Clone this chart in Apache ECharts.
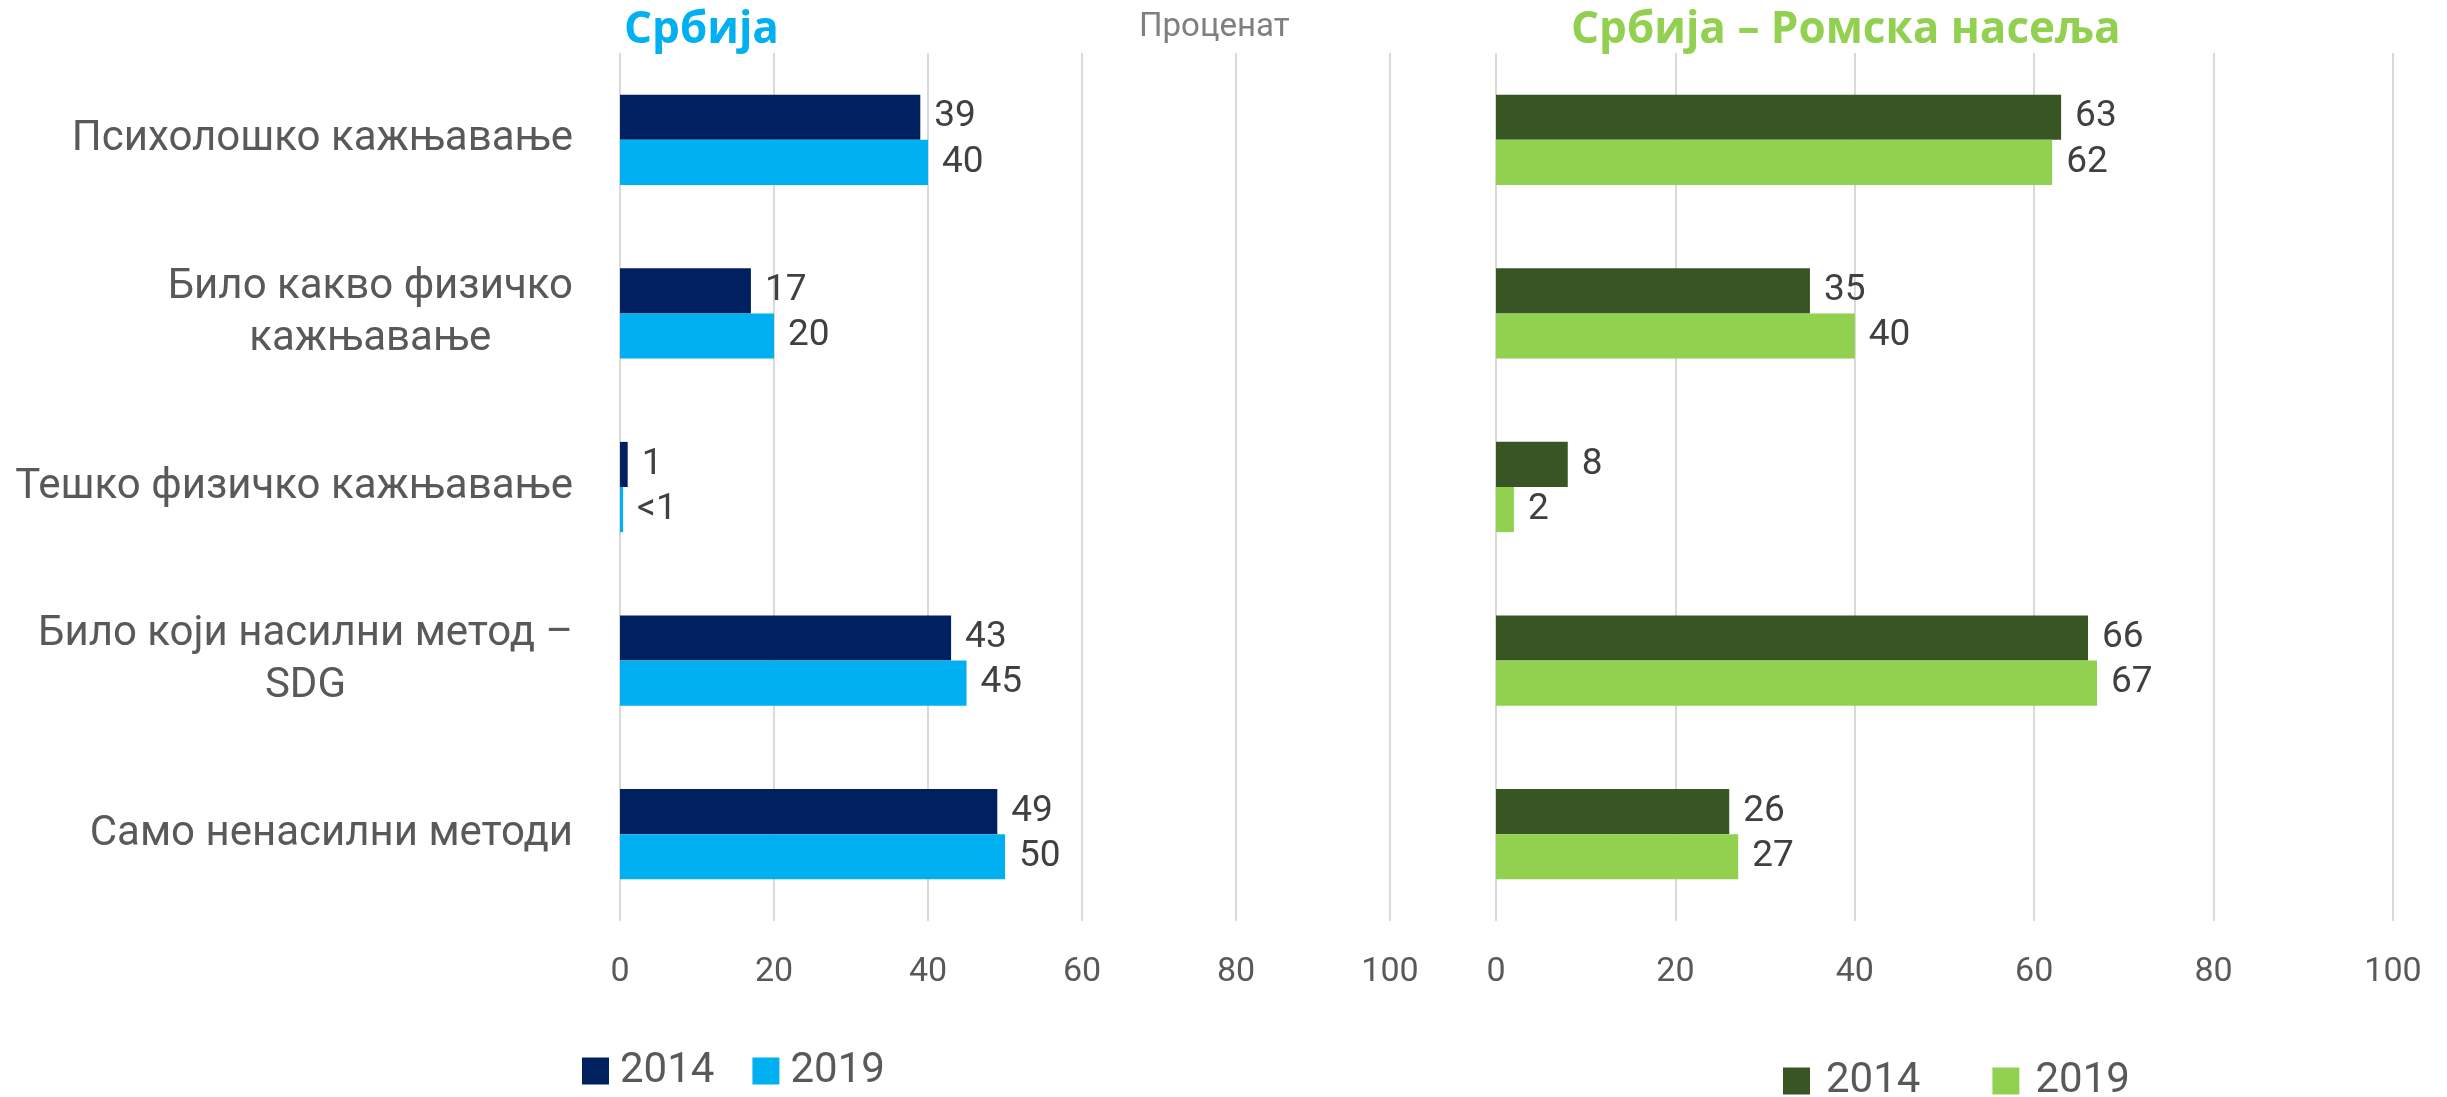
<!DOCTYPE html>
<html>
<head>
<meta charset="utf-8">
<title>Србија</title>
<script src="https://cdn.jsdelivr.net/npm/echarts@6.0.0/dist/echarts.min.js"></script>
<style>
  html, body { margin: 0; padding: 0; background: #fff; }
  #chart { width: 2447px; height: 1097px; }
</style>
</head>
<body>
<div id="chart"></div>
<script>
const categories = [
  'Психолошко кажњавање',
  'Било какво физичко\nкажњавање',
  'Тешко физичко кажњавање',
  'Било који насилни метод –\nSDG',
  'Само ненасилни методи'
];
const years = ['2014', '2019'];
const serbia2014 = [39, 17, 1, 43, 49];
const serbia2019 = [40, 20, 0.4, 45, 50];
const serbia2014Labels = ['39', '17', '1', '43', '49'];
const serbia2019Labels = ['40', '20', '<1', '45', '50'];
const roma2014 = [63, 35, 8, 66, 26];
const roma2019 = [62, 40, 2, 67, 27];
const roma2014Labels = ['63', '35', '8', '66', '26'];
const roma2019Labels = ['62', '40', '2', '67', '27'];
const xTicks = { min: 0, max: 100, interval: 20 };

const FONT = 'Roboto';
const TITLE_FONT = 'Open Sans';
const colors = {
  serbia2014: '#002060',
  serbia2019: '#00B0F0',
  roma2014: '#375623',
  roma2019: '#92D050'
};

const chart = echarts.init(document.getElementById('chart'));

function xAxis(gridIndex) {
  return {
    type: 'value',
    gridIndex: gridIndex,
    min: xTicks.min,
    max: xTicks.max,
    interval: xTicks.interval,
    axisLine: { show: false },
    axisTick: { show: false },
    axisLabel: { color: '#595959', fontFamily: FONT, fontSize: 34, margin: 34 },
    splitLine: { lineStyle: { color: '#D9D9D9', width: 2 } }
  };
}

function yAxis(gridIndex, showLabels) {
  return {
    type: 'category',
    gridIndex: gridIndex,
    inverse: true,
    data: categories,
    axisLine: { show: false },
    axisTick: { show: false },
    axisLabel: {
      show: showLabels,
      margin: 47,
      formatter: v => v.split('\n').map(s => '{c|' + s + '}').join('\n'),
      rich: {
        c: { color: '#595959', fontFamily: FONT, fontSize: 42, lineHeight: 52, align: 'center' }
      }
    }
  };
}

function bar(name, idx, values, labels, color) {
  return {
    name: name,
    type: 'bar',
    xAxisIndex: idx,
    yAxisIndex: idx,
    data: values,
    barGap: '0%',
    barCategoryGap: '48%',
    itemStyle: { color: color },
    label: {
      show: true,
      position: 'right',
      distance: 14,
      color: '#404040',
      fontFamily: FONT,
      fontSize: 37,
      formatter: p => labels[p.dataIndex]
    }
  };
}

const option = {
  animation: false,
  title: [
    {
      text: 'Србија', left: 619, top: 3,
      textStyle: { color: '#00B0F0', fontFamily: TITLE_FONT, fontSize: 44, fontWeight: 'bold' }
    },
    {
      text: 'Проценат', left: 1134, top: 6,
      textStyle: { color: '#7F7F7F', fontFamily: FONT, fontSize: 33, fontWeight: 'normal' }
    },
    {
      text: 'Србија – Ромска насеља', left: 1566, top: 3,
      textStyle: { color: '#92D050', fontFamily: TITLE_FONT, fontSize: 44, fontWeight: 'bold' }
    }
  ],
  legend: [
    {
      left: 577, top: 1045,
      itemWidth: 27, itemHeight: 27, itemGap: 38, icon: 'rect',
      textStyle: { color: '#595959', fontFamily: FONT, fontSize: 42, padding: [0, 0, 0, 6] },
      data: [
        { name: years[0], itemStyle: { color: colors.serbia2014 } },
        { name: years[1], itemStyle: { color: colors.serbia2019 } }
      ]
    },
    {
      left: 1778, top: 1055,
      itemWidth: 27, itemHeight: 27, itemGap: 72, icon: 'rect',
      textStyle: { color: '#595959', fontFamily: FONT, fontSize: 42, padding: [0, 0, 0, 11] },
      data: [
        { name: years[0], itemStyle: { color: colors.roma2014 } },
        { name: years[1], itemStyle: { color: colors.roma2019 } }
      ]
    }
  ],
  grid: [
    { left: 620, width: 770, top: 53, bottom: 176, outerBoundsMode: 'none' },
    { left: 1496, width: 897, top: 53, bottom: 176, outerBoundsMode: 'none' }
  ],
  xAxis: [xAxis(0), xAxis(1)],
  yAxis: [yAxis(0, true), yAxis(1, false)],
  series: [
    bar(years[0], 0, serbia2014, serbia2014Labels, colors.serbia2014),
    bar(years[1], 0, serbia2019, serbia2019Labels, colors.serbia2019),
    bar(years[0], 1, roma2014, roma2014Labels, colors.roma2014),
    bar(years[1], 1, roma2019, roma2019Labels, colors.roma2019)
  ]
};

chart.setOption(option);
</script>
</body>
</html>
